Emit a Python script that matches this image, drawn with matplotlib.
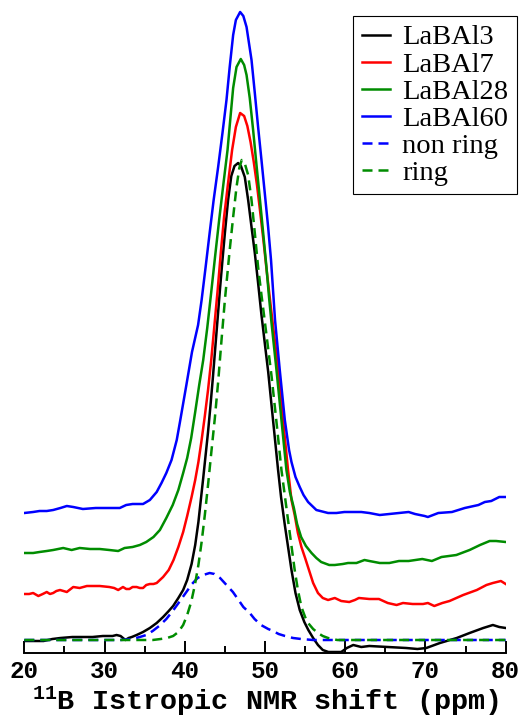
import matplotlib
matplotlib.use("Agg")
import matplotlib.pyplot as plt
import numpy as np

# ---- data (intensity in arbitrary units, stacked curves) ----
labal3 = [(20.0,-1),(21.0,-1),(22.4,-1),(23.5,1),(24.5,2),(26.0,3),(27.3,3),(28.5,3),(29.8,4),(31.0,4),
          (31.5,5),(32.0,4),(32.6,0),(33.0,2),(33.4,3),(34.0,5),(34.8,8),(35.65,12),(36.5,17),(37.3,23),
          (38.0,29),(38.55,34),(39.2,42),(39.8,50),(40.3,60),(40.85,76),(41.3,95),(41.7,118),(42.0,140),
          (42.3,162),(42.6,185),(42.9,208),(43.2,234),(43.5,262),(43.8,292),(44.1,322),(44.4,352),(44.7,380),
          (45.0,407),(45.4,440),(45.8,464),(46.2,474),(46.65,477),(47.0,474),(47.48,463),(47.9,440),(48.32,413),
          (48.73,387),(49.14,357),(49.56,325),(50.0,295),(50.4,268),(51.0,220),(51.63,170),(52.0,143),
          (52.47,115),(53.3,70),(53.8,47),(54.33,30),(54.9,18),(55.4,10),(56.0,2),(56.6,-5),(57.2,-10),
          (57.9,-12),(59.5,-12),(60.2,-8),(61.0,-5),(62.0,-7),(63.0,-6),(65.3,-7),(67.6,-8),(69.0,-9),
          (70.1,-8),(71.8,-3),(73.9,2),(75.5,7),(77.2,12),(78.4,15),(79.2,13),(80.0,12)]

labal7 = [(20.0,46),(20.6,46),(21.1,47),(21.75,44),(22.3,46),(22.8,48),(23.2,46),(23.6,47),(24.0,49),
          (24.45,50),(25.3,48),(26.1,53),(26.9,52),(27.8,54),(28.6,54),(29.4,54),(30.6,53),(31.2,52),
          (31.7,50),(32.3,53),(32.7,51),(33.1,51),(33.5,53),(34.0,53),(34.4,52),(34.8,52),(35.2,55),
          (35.65,56),(36.1,56),(36.5,57),(37.3,63),(38.0,70),(38.6,80),(39.2,93),(39.8,108),(40.3,124),
          (40.85,143),(41.3,160),(41.7,178),(42.1,200),(42.5,224),(42.9,250),(43.3,280),(43.7,315),
          (44.1,350),(44.5,388),(44.9,423),(45.4,457),(45.9,490),(46.37,513),(46.9,527),(47.4,524),
          (47.8,514),(48.2,498),(48.6,478),(49.0,455),(49.4,428),(49.8,400),(50.2,370),(50.6,342),
          (51.0,314),(51.4,288),(51.8,257),(52.25,220),(52.87,170),(53.3,140),(53.7,125),(54.1,107),
          (54.54,93),(55.0,82),(55.4,72),(56.0,57),(56.6,47),(57.2,42),(57.86,40),(58.7,42),(59.5,39),
          (60.5,38),(61.2,40),(61.7,42),(63.0,41),(64.2,41),(65.3,37),(66.4,35),(67.2,37),(68.4,36),
          (69.7,36),(70.3,37),(71.1,34),(72.1,37),(73.0,39),(74.7,45),(76.4,50),(77.6,55),(78.4,57),
          (79.4,59),(80.0,56)]

labal28 = [(20.0,87),(21.1,87),(21.9,88),(22.8,89),(23.6,90),(24.85,92),(25.9,90),(26.9,92),(28.2,91),
           (29.4,91),(30.6,90),(31.7,89),(32.5,92),(33.5,93),(34.4,95),(35.2,98),(36.1,103),(36.9,110),
           (37.7,122),(38.5,135),(39.2,150),(39.8,167),(40.3,182),(40.8,202),(41.3,228),(41.8,255),
           (42.3,280),(42.8,312),(43.3,348),(43.8,385),(44.3,421),(44.8,455),(45.33,490),(45.7,523),
           (46.03,552),(46.45,573),(46.98,581),(47.4,575),(47.7,565),(48.1,542),(48.52,510),(48.94,475),
           (49.35,442),(49.76,408),(50.18,373),(50.5,343),(50.8,318),(51.43,270),(52.05,220),(52.67,170),
           (53.1,148),(53.6,132),(54.0,116),(54.5,103),(55.1,94),(55.8,87),(56.4,82),(57.0,78),(58.0,75),
           (58.7,75),(59.7,76),(60.35,77),(61.4,77),(62.4,80),(63.0,79),(64.3,77),(65.5,77),(66.7,79),
           (67.9,79),(69.6,81),(70.8,79),(72.0,83),(73.85,85),(75.5,90),(76.8,95),(78.0,99),(78.8,99),
           (80.0,98)]

labal60 = [(20.0,127),(21.1,128),(21.9,129),(22.8,129),(23.6,130),(24.5,132),(25.3,134),(26.1,133),
           (27.3,131),(28.9,132),(30.6,132),(31.9,132),(32.7,135),(33.5,136),(34.2,136),(34.8,136),
           (35.65,140),(36.5,148),(37.1,157),(37.7,167),(38.35,180),(39.0,200),(39.4,218),(40.2,255),
           (40.9,288),(41.66,315),(42.1,340),(42.6,373),(43.1,407),(43.6,440),(44.16,473),(44.7,507),
           (45.2,540),(45.6,573),(46.03,605),(46.37,620),(46.9,628),(47.3,624),(47.7,613),(48.32,580),
           (48.73,547),(49.14,513),(49.56,480),(49.97,447),(50.39,413),(50.75,380),(51.0,350),(51.25,320),
           (51.84,270),(52.47,220),(53.0,190),(53.3,178),(53.8,163),(54.33,153),(54.8,145),(55.37,138),
           (56.4,130),(57.86,127),(58.9,127),(59.9,128),(61.1,128),(62.0,128),(63.0,127),(64.3,125),
           (65.5,126),(66.7,127),(67.9,128),(68.7,126),(69.9,124),(70.3,123),(71.6,127),(73.3,128),
           (74.9,132),(76.6,135),(77.4,138),(78.2,139),(79.2,143),(80.0,143)]

non_ring = [(20.0,0),(32.0,0),(33.5,1),(34.4,3),(35.2,5),(36.0,9),(36.8,14),(37.7,21),(38.5,29),
            (39.4,39),(40.2,48),(40.9,56),(41.6,62),(42.3,65),(43.1,67),(43.7,66),(44.4,62),(45.2,55),
            (46.0,48),(46.7,40),(47.3,33),(48.1,27),(48.7,21),(49.5,15),(50.4,11),(51.0,9),(51.7,6),
            (52.5,4),(53.5,2),(54.5,1),(56.0,0),(80.0,0)]

ring = [(20.0,0),(36.0,0),(37.0,1),(37.8,2),(38.55,4),(39.2,8),(39.8,15),(40.3,25),(40.8,38),(41.26,55),
        (41.7,75),(42.1,98),(42.5,125),(42.9,155),(43.3,187),(43.75,222),(44.16,258),(44.58,300),
        (45.0,340),(45.3,365),(45.6,390),(46.03,423),(46.45,453),(46.8,472),(47.1,480),(47.5,476),
        (47.9,465),(48.32,440),(48.73,407),(49.14,373),(49.56,345),(50.0,317),(50.4,291),(50.8,265),
        (51.43,218),(52.05,170),(52.87,120),(53.7,70),(54.1,50),(54.54,33),(55.0,23),(55.37,17),
        (56.0,11),(56.6,7),(57.2,4),(57.86,2),(59.0,0),(80.0,0)]

series_labels = ["LaBAl3", "LaBAl7", "LaBAl28", "LaBAl60", "non ring", "ring"]
x_ticks = [20, 30, 40, 50, 60, 70, 80]
x_label = r"$^{11}$B Istropic NMR shift (ppm)"

# ---- style ----
plt.rcParams["mathtext.fontset"] = "custom"
plt.rcParams["mathtext.rm"] = "Liberation Mono:bold"
plt.rcParams["mathtext.it"] = "Liberation Mono:bold"
plt.rcParams["mathtext.bf"] = "Liberation Mono:bold"

fig = plt.figure(figsize=(5.26, 7.2), dpi=100)
ax = fig.add_axes([24.3 / 526, 67 / 720, 481.4 / 526, 653 / 720])

lw = 1.8
dash = (0, (4, 2.4))
styles = [("black", "-"), ("#ff0000", "-"), ("#008c00", "-"), ("#0000ff", "-"),
          ("#0000ff", dash), ("#008c00", dash)]
data = [labal3, labal7, labal28, labal60, non_ring, ring]

for d, (c, ls), lab in zip(data, styles, series_labels):
    x, y = zip(*d)
    ax.plot(x, y, color=c, linestyle=ls, linewidth=lw, label=lab)

ax.set_xlim(20, 80)
ax.set_ylim(-13, 640)
for s in ("top", "left", "right"):
    ax.spines[s].set_visible(False)
ax.spines["bottom"].set_linewidth(1.4)

ax.set_xticks(x_ticks)
ax.set_xticks(np.arange(25, 80, 10), minor=True)
ax.tick_params(axis="x", which="major", direction="in", length=9, width=1.4, pad=5)
ax.tick_params(axis="x", which="minor", direction="in", length=5, width=1.4)
ax.tick_params(axis="y", left=False, labelleft=False)
for t in ax.get_xticklabels():
    t.set_fontfamily("Liberation Mono")
    t.set_fontweight("bold")
    t.set_fontsize(17.5)

ax.set_xlabel(x_label, fontfamily="Liberation Mono", fontweight="bold", fontsize=20.5, labelpad=1)

leg = ax.legend(loc="upper right", bbox_to_anchor=(517 / 526, 704 / 720),
                bbox_transform=fig.transFigure, borderaxespad=0,
                prop={"family": "Liberation Serif", "size": 20.5},
                frameon=True, fancybox=False, framealpha=1, edgecolor="black",
                borderpad=0.3, labelspacing=0.04, handlelength=1.0, handletextpad=0.42)
leg.get_frame().set_linewidth(0.8)

fig.savefig("out.png", dpi=100)
